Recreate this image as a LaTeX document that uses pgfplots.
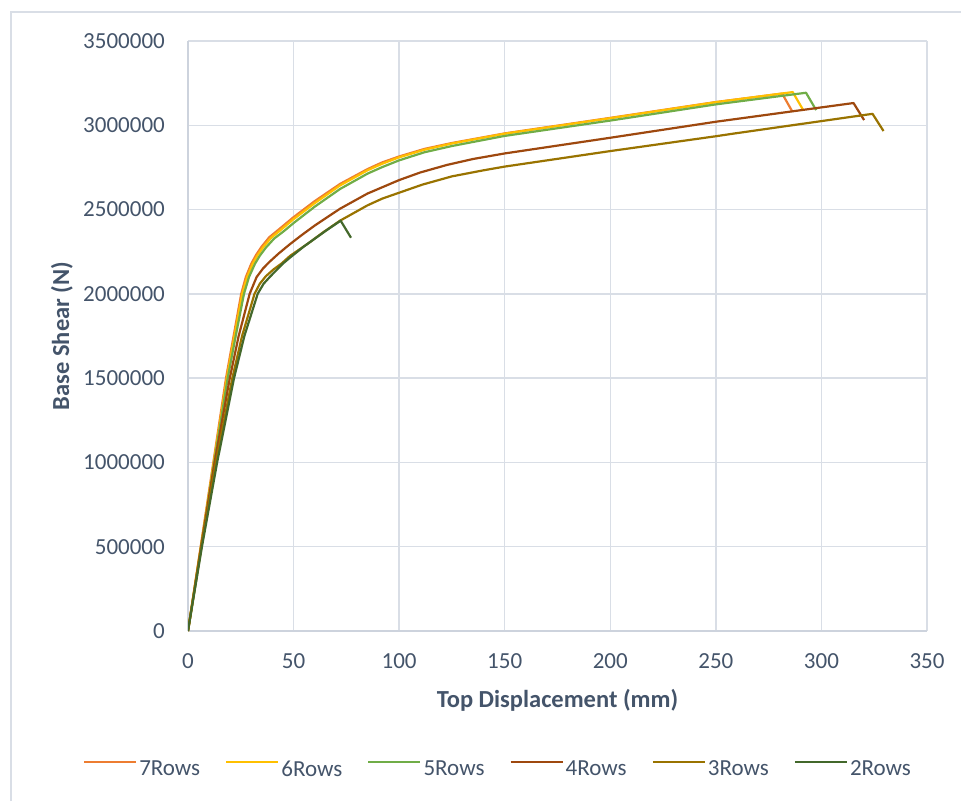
\documentclass[border=0pt]{standalone}
\usepackage{fontspec}
\setmainfont{Carlito}
\usepackage{pgfplots}
\pgfplotsset{compat=1.18}
\definecolor{txt}{RGB}{68,84,106}
\definecolor{gridc}{RGB}{217,222,230}
\definecolor{axc}{RGB}{205,211,221}
\definecolor{c7}{RGB}{237,125,49}
\definecolor{c6}{RGB}{255,192,0}
\definecolor{c5}{RGB}{112,173,71}
\definecolor{c4}{RGB}{158,72,14}
\definecolor{c3}{RGB}{153,115,0}
\definecolor{c2}{RGB}{67,104,43}
\begin{document}
\begin{tikzpicture}[x=1pt,y=1pt]
\useasboundingbox (0,0) rectangle (961,801);
\draw[gridc, line width=1.5pt] (11,0) -- (11,789) -- (961,789);
\begin{axis}[
  at={(188pt,170pt)}, anchor=south west,
  scale only axis, width=739pt, height=590pt,
  xmin=0, xmax=350, ymin=0, ymax=3500000,
  xtick={0,50,100,150,200,250,300,350},
  xticklabels={0,50,100,150,200,250,300,350},
  ytick={0,500000,1000000,1500000,2000000,2500000,3000000,3500000},
  yticklabels={0,500000,1000000,1500000,2000000,2500000,3000000,3500000},
  scaled y ticks=false,
  axis lines*=left,
  axis line style={axc, line width=1.5pt},
  grid=major,
  major grid style={gridc, line width=1.3pt},
  major tick length=0pt,
  tick label style={font=\fontsize{23}{28}\selectfont, text=txt},
  xticklabel style={inner sep=0pt, anchor=north, yshift=-22pt},
  yticklabel style={inner sep=0pt, anchor=east, xshift=-23pt},
  xlabel={\textbf{Top Displacement (mm)}},
  ylabel={\textbf{Base Shear (N)}},
  label style={font=\fontsize{24.5}{29}\selectfont, text=txt},
  xlabel style={at={(axis description cs:0.5,-0.1169)}, anchor=center},
  ylabel style={at={(axis description cs:-0.1705,0.5)}, anchor=center, rotate=0},
  legend columns=6,
  legend style={at={(axis description cs:0.4195,-0.2339)}, anchor=center,
    draw=none, fill=none, font=\fontsize{23}{28}\selectfont, text=txt,
    /tikz/every even column/.append style={column sep=23pt}},
  legend image code/.code={\draw[#1, line width=2.2pt] (0pt,7pt) -- (52pt,7pt);},
  every axis plot/.append style={line width=2.2pt, line join=round},
]
\addplot[c7] coordinates {
(0,0) (6,500000) (12,1000000) (18,1500000) (21.6,1750000) (25.2,2000000)
(27.4,2100000) (30,2180000) (32.3,2232000) (34.8,2279000) (38.5,2336000)
(42.8,2380000) (50,2455000) (60,2550000) (72,2652000) (85,2740000)
(92,2780000) (100,2815000) (112,2860000) (125,2895000) (150,2952000)
(200,3044000) (250,3138000) (281.4,3188000) (286.1,3084000)};
\addlegendentry{7Rows}
\addplot[c6] coordinates {
(0,0) (6.1,500000) (12.2,1000000) (18.4,1500000) (22,1750000) (25.7,2000000)
(28,2100000) (30.7,2180000) (33,2230000) (35.6,2277000) (39.4,2333000)
(44,2380000) (50,2443000) (60,2538000) (72,2643000) (85,2733000)
(92,2772000) (100,2810000) (112,2855000) (125,2892000) (150,2950000)
(200,3042000) (250,3137000) (286.4,3197000) (291.2,3094000)};
\addlegendentry{6Rows}
\addplot[c5] coordinates {
(0,0) (6.2,500000) (12.4,1000000) (18.8,1500000) (22.6,1750000) (26.5,2000000)
(28.9,2100000) (31.7,2178000) (34.1,2228000) (36.8,2273000) (40.8,2328000)
(45.5,2373000) (50,2420000) (60,2517000) (72,2622000) (85,2713000)
(92,2752000) (100,2792000) (112,2840000) (125,2877000) (150,2937000)
(200,3028000) (250,3124000) (292.7,3193000) (297.5,3090000)};
\addlegendentry{5Rows}
\addplot[c4] coordinates {
(0,0) (6.2,500000) (12.6,1000000) (19.8,1500000) (24,1750000) (29.2,2000000)
(32.5,2100000) (35.5,2150000) (38.6,2190000) (43,2240000) (48.3,2295000)
(54,2350000) (60,2405000) (72,2505000) (85,2595000) (100,2675000)
(110,2720000) (122.7,2765000) (135,2800000) (150,2833000) (200,2926000)
(250,3021000) (315.2,3132000) (320.2,3031000)};
\addlegendentry{4Rows}
\addplot[c3] coordinates {
(0,0) (6.4,500000) (13.2,1000000) (21,1500000) (25.6,1750000) (31.5,2000000)
(34,2060000) (36.9,2105000) (40.5,2145000) (44.4,2181000) (48.3,2225000)
(57,2300000) (64,2365000) (72,2434000) (85,2525000) (92,2565000)
(100,2600000) (111,2648000) (125,2697000) (140,2733000) (150,2755000)
(200,2847000) (250,2935000) (258,2950000) (324.2,3068000) (329.4,2966000)};
\addlegendentry{3Rows}
\addplot[c2] coordinates {
(0,0) (6.6,500000) (13.8,1000000) (21.8,1500000) (26.7,1750000) (33,2000000)
(35.8,2060000) (38.8,2101000) (41.9,2141000) (45,2180000) (48.3,2215000)
(55,2282000) (65.7,2378000) (72.3,2434000) (77.2,2333000)};
\addlegendentry{2Rows}
\end{axis}
\end{tikzpicture}
\end{document}
